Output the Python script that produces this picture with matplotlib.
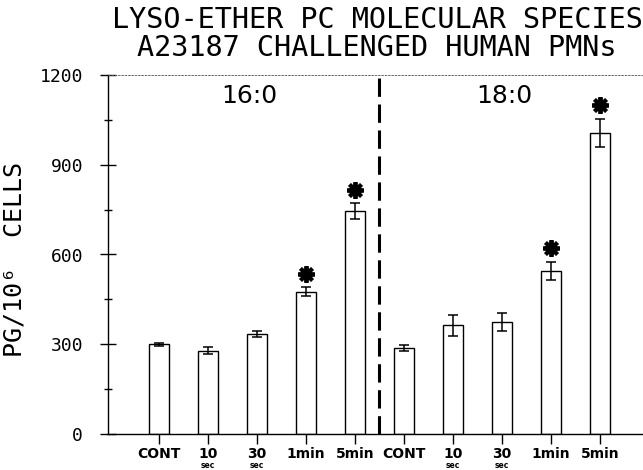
import numpy as np
import matplotlib.pyplot as plt
from matplotlib.ticker import MultipleLocator
from matplotlib import transforms

# 数据：两种分子种类，各五个时间点
groups = ["16:0", "18:0"]
time_labels = ["CONT", "10", "30", "1min", "5min"]
sub_labels = ["", "sec", "sec", "", ""]
mean_160 = [300, 278, 334, 475, 744]
err_160 = [5, 12, 10, 15, 27]
mean_180 = [288, 363, 374, 546, 1007]
err_180 = [10, 34, 30, 30, 47]
sig_160 = [False, False, False, True, True]
sig_180 = [False, False, False, True, True]

means = np.array(mean_160 + mean_180)
errs = np.array(err_160 + err_180)
sig = np.array(sig_160 + sig_180)
xpos = np.arange(len(means))

fig = plt.figure(figsize=(6.43, 4.70), dpi=100)
ax = fig.add_axes([108 / 643, 1 - 434 / 470, 1 - 108 / 643, 359 / 470])

# 柱状图与误差线
ax.bar(xpos, means, width=0.41, color="white", edgecolor="black", linewidth=1.0, zorder=2)
ax.errorbar(xpos, means, yerr=errs, fmt="none", ecolor="black", elinewidth=1.1,
            capsize=3.5, capthick=1.1, zorder=3)

# 显著性星号
ax.plot(xpos[sig], means[sig] + errs[sig] + 45, linestyle="none", marker=(8, 2, 0),
        markersize=12, markeredgewidth=2.8, color="black", zorder=4)

# 中间分隔虚线
ax.axvline(4.5, color="black", linewidth=2.2, linestyle=(0, (6, 2.5)), zorder=1)

# 组标签
for i, g in enumerate(groups):
    ax.text(1.85 + i * 5.2, 1130, g, ha="center", va="center", fontsize=18,
            family="DejaVu Sans")

ax.set_xlim(-1.04, 9.88)
ax.set_ylim(0, 1200)

ax.spines["right"].set_visible(False)
ax.spines["top"].set_linestyle((0, (2, 2)))
ax.spines["top"].set_linewidth(0.6)
ax.spines["top"].set_color("#555555")
ax.spines["left"].set_linewidth(1.0)
ax.spines["bottom"].set_linewidth(1.0)

ax.yaxis.set_major_locator(MultipleLocator(300))
ax.yaxis.set_minor_locator(MultipleLocator(150))
ax.tick_params(axis="y", which="major", direction="inout", length=12, width=1,
               pad=12, labelsize=13)
ax.tick_params(axis="y", which="minor", direction="inout", length=6, width=1)
for lab in ax.get_yticklabels():
    lab.set_family("DejaVu Sans Mono")

ax.set_xticks(xpos)
ax.set_xticklabels(time_labels * 2, fontsize=10, fontweight="bold")
ax.tick_params(axis="x", which="major", direction="out", length=7, width=1, pad=2)

trans = transforms.blended_transform_factory(ax.transData, ax.transAxes)
for x, s in zip(xpos, sub_labels * 2):
    if s:
        ax.text(x, -0.076, s, transform=trans, ha="center", va="top", fontsize=5.5,
                fontweight="bold")

ax.set_ylabel("PG/10⁶  CELLS", fontsize=18, family="DejaVu Sans Mono")
ax.yaxis.set_label_coords(-0.153, 0.485)

fig.text(377 / 643, 1 - 20 / 470, "LYSO-ETHER PC MOLECULAR SPECIES", ha="center",
         va="center", fontsize=20.5, family="DejaVu Sans Mono")
fig.text(377 / 643, 1 - 48 / 470, "A23187 CHALLENGED HUMAN PMNs", ha="center",
         va="center", fontsize=20.5, family="DejaVu Sans Mono")

fig.savefig("out.png", dpi=100)
